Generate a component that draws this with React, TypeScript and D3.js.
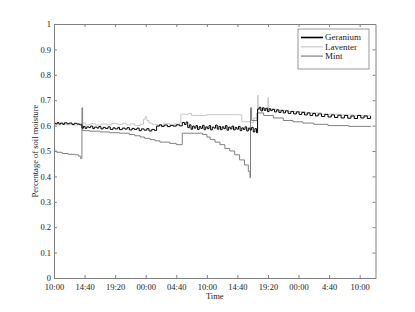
import React, { useEffect, useRef } from "react";
import * as d3 from "d3";

// minutes since 10:00 on day one, soil moisture fraction
const geranium: [number, number][] = [
  [0, 0.61], [15, 0.607], [30, 0.612], [45, 0.606], [60, 0.61], [80, 0.605], [95, 0.611],
  [120, 0.607], [140, 0.61], [165, 0.604], [185, 0.609], [210, 0.606], [235, 0.603], [256, 0.59],
  [270, 0.597], [285, 0.589], [300, 0.595], [320, 0.592], [335, 0.598], [355, 0.588], [370, 0.594],
  [395, 0.59], [410, 0.596], [430, 0.587], [450, 0.593], [470, 0.589], [495, 0.595], [515, 0.585],
  [540, 0.591], [560, 0.587], [585, 0.593], [600, 0.584], [625, 0.59], [650, 0.586], [670, 0.592],
  [690, 0.583], [715, 0.589], [735, 0.585], [760, 0.59], [780, 0.58], [800, 0.587], [825, 0.582],
  [850, 0.588], [870, 0.579], [895, 0.585], [920, 0.581],
  [940, 0.598], [965, 0.603], [985, 0.597], [1010, 0.602], [1040, 0.596], [1065, 0.601], [1090, 0.598],
  [1120, 0.603], [1150, 0.599], [1175, 0.612], [1195, 0.604], [1210, 0.614],
  [1225, 0.592], [1240, 0.603], [1255, 0.586], [1270, 0.598], [1285, 0.59], [1300, 0.6], [1315, 0.585],
  [1330, 0.596], [1345, 0.589], [1360, 0.601], [1375, 0.584], [1390, 0.595], [1405, 0.588], [1420, 0.6],
  [1435, 0.583], [1450, 0.594], [1465, 0.59], [1480, 0.602], [1495, 0.586], [1510, 0.597], [1525, 0.584],
  [1540, 0.595], [1555, 0.588], [1570, 0.6], [1585, 0.582], [1600, 0.594], [1615, 0.587], [1630, 0.598],
  [1645, 0.583], [1660, 0.593], [1675, 0.586], [1690, 0.597], [1705, 0.58], [1720, 0.591], [1735, 0.585],
  [1750, 0.595], [1765, 0.579], [1780, 0.59], [1795, 0.583], [1810, 0.593], [1825, 0.575], [1840, 0.588],
  [1855, 0.572],
  [1865, 0.665], [1880, 0.672], [1895, 0.658], [1910, 0.67], [1925, 0.66], [1940, 0.668], [1955, 0.655],
  [1970, 0.666], [1985, 0.659], [2000, 0.664], [2020, 0.654], [2040, 0.662], [2060, 0.652], [2080, 0.66],
  [2100, 0.65], [2120, 0.658], [2145, 0.648], [2170, 0.656], [2195, 0.646], [2220, 0.654], [2245, 0.644],
  [2270, 0.652], [2295, 0.642], [2320, 0.65], [2345, 0.64], [2370, 0.648], [2395, 0.638], [2420, 0.646],
  [2450, 0.636], [2480, 0.644], [2510, 0.634], [2540, 0.642], [2570, 0.632], [2600, 0.641], [2630, 0.63],
  [2660, 0.64], [2690, 0.629], [2720, 0.638], [2750, 0.628], [2780, 0.64], [2810, 0.63], [2840, 0.638],
  [2870, 0.628], [2900, 0.637],
];

const laventer: [number, number][] = [
  [0, 0.605], [30, 0.602], [60, 0.607], [100, 0.603], [140, 0.606], [180, 0.602],
  [220, 0.607], [256, 0.61], [290, 0.603], [330, 0.607], [380, 0.602], [430, 0.606],
  [480, 0.603], [530, 0.608], [580, 0.604], [630, 0.61], [660, 0.603], [700, 0.607],
  [740, 0.6], [790, 0.605], [820, 0.625], [835, 0.635], [850, 0.62], [870, 0.61],
  [900, 0.605], [950, 0.6], [1000, 0.607], [1060, 0.602], [1100, 0.606], [1150, 0.61],
  [1162, 0.645], [1230, 0.648], [1260, 0.64], [1400, 0.643], [1700, 0.642], [1720, 0.615],
  [1800, 0.612], [1830, 0.63], [1865, 0.72], [1870, 0.665], [1950, 0.67], [1960, 0.71],
  [1965, 0.665], [2050, 0.66], [2150, 0.655], [2300, 0.65], [2450, 0.645], [2600, 0.642],
  [2750, 0.64], [2900, 0.638],
];

const mint: [number, number][] = [
  [0, 0.5], [25, 0.495], [75, 0.49], [130, 0.487], [190, 0.485], [225, 0.48],
  [245, 0.47], [256, 0.67], [262, 0.58], [330, 0.578], [420, 0.575], [510, 0.572],
  [600, 0.57], [690, 0.565], [740, 0.56], [790, 0.555], [830, 0.55], [880, 0.545],
  [925, 0.54], [970, 0.535], [1060, 0.53], [1120, 0.525], [1175, 0.57], [1290, 0.57],
  [1360, 0.565], [1400, 0.555], [1430, 0.545], [1475, 0.535], [1520, 0.525], [1565, 0.51],
  [1610, 0.5], [1655, 0.485], [1700, 0.465], [1745, 0.445], [1780, 0.42], [1795, 0.395],
  [1800, 0.67], [1810, 0.62], [1860, 0.65], [1920, 0.64], [2010, 0.63], [2100, 0.62],
  [2190, 0.615], [2280, 0.61], [2380, 0.605], [2510, 0.6], [2700, 0.597], [2900, 0.595],
];

const xTickValues = [0, 280, 560, 840, 1120, 1400, 1680, 1960, 2240, 2520, 2800];
const xTickLabels = ["10:00", "14:40", "19:20", "00:00", "04:40", "10:00", "14:40", "19:20", "00:00", "4:40", "10:00"];
const yTickValues = [0, 0.1, 0.2, 0.3, 0.4, 0.5, 0.6, 0.7, 0.8, 0.9, 1];
const yTickLabels = ["0", "0.1", "0.2", "0.3", "0.4", "0.5", "0.6", "0.7", "0.8", "0.9", "1"];

const seriesNames = ["Geranium", "Laventer", "Mint"];
const seriesColors = ["#000000", "#c8c8c8", "#808080"];
const seriesWidths = [1, 1, 1];

export default function App() {
  const ref = useRef<SVGSVGElement>(null);

  useEffect(() => {
    const svg = d3.select(ref.current);
    svg.selectAll("*").remove();

    const margin = { left: 54, right: 39.5, top: 24, bottom: 34 };
    const width = 415;
    const height = 312;

    const x = d3.scaleLinear().domain([0, 2945]).range([margin.left, width - margin.right]);
    const y = d3.scaleLinear().domain([0, 1]).range([height - margin.bottom, margin.top]);

    const font = "'Liberation Serif', 'Times New Roman', serif";
    const axisColor = "#808080";

    const line = d3
      .line<[number, number]>()
      .x((d) => x(d[0]))
      .y((d) => y(d[1]))
      .curve(d3.curveStepAfter);

    [laventer, mint, geranium].forEach((data) => {
      const i = data === geranium ? 0 : data === laventer ? 1 : 2;
      svg
        .append("path")
        .datum(data)
        .attr("fill", "none")
        .attr("stroke", seriesColors[i])
        .attr("stroke-width", seriesWidths[i])
        .attr("d", line);
    });

    const styleAxis = (g: any) => {
      g.select(".domain").attr("stroke", axisColor);
      g.selectAll(".tick line").attr("stroke", axisColor);
      g.selectAll(".tick text").attr("fill", "#222").attr("font-family", font).attr("font-size", 8.5);
    };

    svg
      .append("g")
      .attr("transform", `translate(0, ${height - margin.bottom})`)
      .call(
        d3.axisBottom(x).tickValues(xTickValues).tickSizeInner(-3).tickSizeOuter(0).tickPadding(6)
          .tickFormat((d, i) => xTickLabels[i])
      )
      .call(styleAxis);

    svg
      .append("g")
      .attr("transform", `translate(0, ${margin.top})`)
      .call(d3.axisTop(x).tickValues(xTickValues).tickSizeInner(-3).tickSizeOuter(0).tickFormat(() => ""))
      .call(styleAxis);

    svg
      .append("g")
      .attr("transform", `translate(${margin.left}, 0)`)
      .call(
        d3.axisLeft(y).tickValues(yTickValues).tickSizeInner(-3).tickSizeOuter(0).tickPadding(3)
          .tickFormat((d, i) => yTickLabels[i])
      )
      .call(styleAxis);

    svg
      .append("g")
      .attr("transform", `translate(${width - margin.right}, 0)`)
      .call(d3.axisRight(y).tickValues(yTickValues).tickSizeInner(-3).tickSizeOuter(0).tickFormat(() => ""))
      .call(styleAxis);

    svg
      .append("text")
      .attr("x", (margin.left + width - margin.right) / 2)
      .attr("y", 299)
      .attr("text-anchor", "middle")
      .attr("font-family", font)
      .attr("font-size", 8.5)
      .attr("fill", "#222")
      .text("Time");

    svg
      .append("text")
      .attr("transform", `translate(38, ${(margin.top + height - margin.bottom) / 2}) rotate(-90)`)
      .attr("text-anchor", "middle")
      .attr("font-family", font)
      .attr("font-size", 8.5)
      .attr("fill", "#222")
      .text("Percentage of soil moisture");

    const legend = svg.append("g").attr("transform", "translate(298, 29)");
    legend
      .append("rect")
      .attr("width", 71)
      .attr("height", 40)
      .attr("fill", "white")
      .attr("stroke", axisColor)
      .attr("stroke-width", 0.8);
    seriesNames.forEach((name, i) => {
      const row = legend.append("g").attr("transform", `translate(0, ${8.5 + i * 9.3})`);
      row
        .append("line")
        .attr("x1", 3)
        .attr("x2", 25)
        .attr("stroke", seriesColors[i])
        .attr("stroke-width", i === 0 ? 1.6 : 1.2);
      row
        .append("text")
        .attr("x", 27)
        .attr("dy", "0.33em")
        .attr("font-family", font)
        .attr("font-size", 9)
        .attr("fill", "#222")
        .text(name);
    });
  }, []);

  return <svg ref={ref} width={415} height={312} style={{ position: "absolute", left: 0, top: 0, background: "white" }} />;
}
